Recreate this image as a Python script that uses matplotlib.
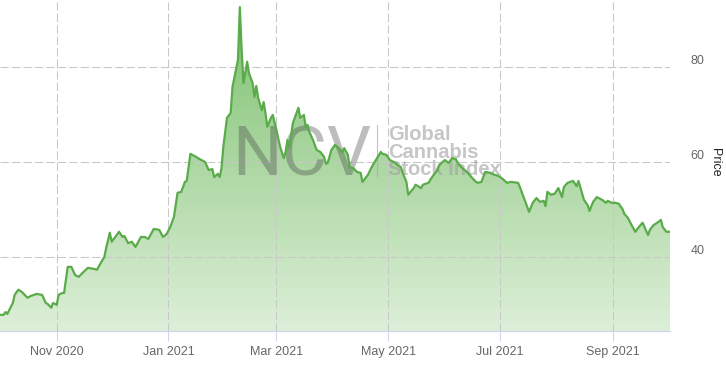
import numpy as np
import matplotlib
matplotlib.use("Agg")
import matplotlib.pyplot as plt
import matplotlib.dates as mdates
import matplotlib.transforms as mtransforms
from matplotlib.colors import LinearSegmentedColormap

plt.rcParams["font.family"] = ["Liberation Sans", "DejaVu Sans"]

# ── Palette ───────────────────────────────────────────────────────────────────
LINE_COL  = "#5aab4a"
FILL_TOP  = "#7cc06e"
FILL_BOT  = "#ddefd8"
GRID_COL  = "#c8c8c8"
AXIS_COL  = "#ccd6eb"
TICK_TXT  = "#666666"

# ── Data ──────────────────────────────────────────────────────────────────────
dates = [
    "2020-10-01", "2020-10-03", "2020-10-04", "2020-10-05", "2020-10-08", "2020-10-09",
    "2020-10-11", "2020-10-13", "2020-10-16", "2020-10-18", "2020-10-21", "2020-10-24",
    "2020-10-26", "2020-10-27", "2020-10-29", "2020-10-30", "2020-11-01", "2020-11-02",
    "2020-11-04", "2020-11-05", "2020-11-07", "2020-11-09", "2020-11-11", "2020-11-13",
    "2020-11-15", "2020-11-18", "2020-11-21", "2020-11-23", "2020-11-25", "2020-11-27",
    "2020-11-28", "2020-11-30", "2020-12-01", "2020-12-03", "2020-12-05", "2020-12-07",
    "2020-12-08", "2020-12-10", "2020-12-12", "2020-12-14", "2020-12-17", "2020-12-19",
    "2020-12-21", "2020-12-24", "2020-12-27", "2020-12-29", "2020-12-31", "2021-01-02",
    "2021-01-04", "2021-01-05", "2021-01-06", "2021-01-08", "2021-01-10", "2021-01-11",
    "2021-01-13", "2021-01-16", "2021-01-18", "2021-01-21", "2021-01-23", "2021-01-25",
    "2021-01-26", "2021-01-28", "2021-01-29", "2021-01-30", "2021-01-31", "2021-02-02",
    "2021-02-04", "2021-02-05", "2021-02-08", "2021-02-09", "2021-02-10", "2021-02-11",
    "2021-02-13", "2021-02-14", "2021-02-16", "2021-02-17", "2021-02-18", "2021-02-19",
    "2021-02-21", "2021-02-22", "2021-02-23", "2021-02-24", "2021-02-26", "2021-02-27",
    "2021-03-01", "2021-03-03", "2021-03-05", "2021-03-06", "2021-03-07", "2021-03-08",
    "2021-03-10", "2021-03-12", "2021-03-13", "2021-03-14", "2021-03-16", "2021-03-17",
    "2021-03-18", "2021-03-19", "2021-03-21", "2021-03-23", "2021-03-25", "2021-03-27",
    "2021-03-28", "2021-03-29", "2021-03-31", "2021-04-02", "2021-04-04", "2021-04-06",
    "2021-04-07", "2021-04-09", "2021-04-10", "2021-04-12", "2021-04-14", "2021-04-16",
    "2021-04-17", "2021-04-20", "2021-04-22", "2021-04-25", "2021-04-27", "2021-04-28",
    "2021-04-30", "2021-05-02", "2021-05-04", "2021-05-06", "2021-05-08", "2021-05-09",
    "2021-05-11", "2021-05-12", "2021-05-15", "2021-05-16", "2021-05-19", "2021-05-20",
    "2021-05-23", "2021-05-25", "2021-05-28", "2021-05-29", "2021-06-01", "2021-06-03",
    "2021-06-05", "2021-06-07", "2021-06-08", "2021-06-10", "2021-06-13", "2021-06-16",
    "2021-06-18", "2021-06-19", "2021-06-21", "2021-06-23", "2021-06-26", "2021-06-28",
    "2021-06-30", "2021-07-02", "2021-07-05", "2021-07-07", "2021-07-11", "2021-07-12",
    "2021-07-14", "2021-07-17", "2021-07-19", "2021-07-21", "2021-07-23", "2021-07-25",
    "2021-07-26", "2021-07-27", "2021-07-29", "2021-07-31", "2021-08-02", "2021-08-04",
    "2021-08-05", "2021-08-07", "2021-08-10", "2021-08-12", "2021-08-13", "2021-08-16",
    "2021-08-18", "2021-08-19", "2021-08-21", "2021-08-23", "2021-08-26", "2021-08-28",
    "2021-08-29", "2021-08-31", "2021-09-02", "2021-09-04", "2021-09-06", "2021-09-07",
    "2021-09-09", "2021-09-11", "2021-09-13", "2021-09-15", "2021-09-17", "2021-09-20",
    "2021-09-21", "2021-09-23", "2021-09-25", "2021-09-27", "2021-09-28", "2021-09-30",
    "2021-10-02",
]
prices = [
    27.8, 27.8, 28.4, 28.0, 30.3, 32.0,
    33.1, 32.6, 31.4, 31.8, 32.2, 32.0,
    30.3, 30.1, 29.3, 30.3, 29.9, 32.0,
    32.4, 32.4, 37.9, 37.9, 36.2, 35.8,
    36.6, 37.7, 37.5, 37.3, 38.7, 40.0,
    41.9, 45.1, 43.2, 44.2, 45.3, 44.2,
    44.4, 42.9, 43.2, 42.1, 44.2, 44.2,
    43.8, 45.9, 45.7, 44.2, 44.8, 46.3,
    48.4, 50.9, 53.5, 53.7, 55.8, 56.0,
    61.7, 61.1, 60.6, 60.0, 58.3, 58.5,
    56.8, 57.5, 56.8, 58.7, 63.2, 69.3,
    70.3, 75.8, 81.5, 92.6, 83.6, 76.6,
    81.1, 78.7, 76.6, 73.7, 76.0, 73.5,
    70.9, 72.6, 70.3, 67.4, 69.3, 69.9,
    66.7, 63.2, 60.8, 62.1, 64.6, 63.2,
    68.2, 70.3, 71.4, 69.3, 69.9, 67.4,
    67.8, 66.3, 64.6, 62.5, 62.1, 61.1,
    59.6, 59.8, 62.5, 63.6, 62.9, 62.1,
    62.9, 61.5, 58.9, 58.7, 57.9, 57.7,
    55.8, 57.3, 58.9, 60.8, 62.1, 61.7,
    61.5, 60.4, 60.0, 59.4, 58.9, 57.7,
    55.8, 53.1, 54.5, 55.2, 54.5, 55.2,
    55.6, 56.8, 58.3, 59.4, 60.4, 59.8,
    60.8, 60.6, 59.8, 58.9, 57.9, 56.6,
    55.8, 55.6, 55.8, 57.9, 57.7, 57.3,
    57.1, 56.6, 55.6, 55.8, 55.6, 54.7,
    52.6, 49.5, 51.4, 52.4, 51.6, 51.8,
    50.7, 53.7, 53.1, 53.3, 54.5, 52.6,
    54.7, 55.6, 56.0, 54.9, 56.0, 52.0,
    50.9, 49.7, 51.6, 52.6, 52.0, 51.4,
    51.8, 51.4, 51.4, 51.2, 50.1, 49.1,
    48.2, 46.7, 45.3, 46.3, 47.2, 44.6,
    45.7, 46.7, 47.2, 47.8, 46.3, 45.3,
    45.3,
]
y_ticks = [40, 60, 80]
x_ticks = ["2020-11-01", "2021-01-01", "2021-03-01", "2021-05-01", "2021-07-01", "2021-09-01"]

x = mdates.datestr2num(dates)
y = np.array(prices)

Y_MIN, Y_MAX = 24.4, 94.1
X_MIN, X_MAX = mdates.datestr2num("2020-10-01"), mdates.datestr2num("2021-10-02")

# ── Figure ────────────────────────────────────────────────────────────────────
fig = plt.figure(figsize=(7.26, 3.67), dpi=100)
ax = fig.add_axes([0.0, 0.0981, 0.9229, 0.9019])

# ── Gradient area ─────────────────────────────────────────────────────────────
cmap = LinearSegmentedColormap.from_list("fill", [FILL_BOT, FILL_TOP])
area = ax.fill_between(x, y, Y_MIN, color="none", lw=0)
grad = np.linspace(0, 1, 256).reshape(-1, 1)
img = ax.imshow(grad, extent=[X_MIN, X_MAX, Y_MIN, Y_MAX], origin="lower",
                aspect="auto", cmap=cmap, zorder=1, interpolation="bilinear")
img.set_clip_path(area.get_paths()[0], transform=ax.transData)

ax.plot(x, y, color=LINE_COL, lw=1.6, zorder=4, solid_joinstyle="round")

# ── Watermark ─────────────────────────────────────────────────────────────────
ax.text(0.346, 0.471, "NCV", transform=ax.transAxes, fontsize=50,
        family=["Roboto", "Liberation Sans"], fontweight="normal",
        color="#444444", alpha=0.35, ha="left", va="baseline", zorder=3)
ax.plot([0.5627, 0.5627], [0.465, 0.622], transform=ax.transAxes,
        color="#aaaaaa", lw=0.8, alpha=0.7, zorder=3)
for txt, yy in [("Global", 0.577), ("Cannabis", 0.524), ("Stock Index", 0.471)]:
    ax.text(0.579, yy, txt, transform=ax.transAxes, fontsize=14.5, fontweight="bold",
            color="#a0a0a0", alpha=0.6, ha="left", va="baseline", zorder=3)

# ── Axes styling ──────────────────────────────────────────────────────────────
ax.set_xlim(X_MIN, X_MAX)
ax.set_ylim(Y_MIN, Y_MAX)

ax.set_xticks(mdates.datestr2num(x_ticks))
ax.xaxis.set_major_formatter(mdates.DateFormatter("%b %Y"))
ax.tick_params(axis="x", colors=AXIS_COL, labelcolor=TICK_TXT, labelsize=9,
               length=7.5, width=0.75, pad=3)

ax.yaxis.tick_right()
ax.set_yticks(y_ticks)
ax.tick_params(axis="y", length=0, labelsize=9, labelcolor=TICK_TXT, pad=15)
shift = mtransforms.ScaledTranslation(0, 7.5 / 100, fig.dpi_scale_trans)
for lab in ax.get_yticklabels():
    lab.set_transform(lab.get_transform() + shift)

ax.grid(True, color=GRID_COL, lw=0.75, linestyle=(0, (8, 3)), zorder=2)
ax.set_axisbelow(False)
for gl in ax.get_xgridlines() + ax.get_ygridlines():
    gl.set_zorder(2)

for name, spine in ax.spines.items():
    spine.set_visible(name == "bottom")
ax.spines["bottom"].set_color(AXIS_COL)
ax.spines["bottom"].set_linewidth(0.9)
ax.spines["bottom"].set_zorder(5)

fig.text(715 / 726, 1 - 162 / 367, "Price", rotation=270, ha="center", va="center",
         fontsize=9, color="#222222")

fig.savefig("out.png", dpi=100)
